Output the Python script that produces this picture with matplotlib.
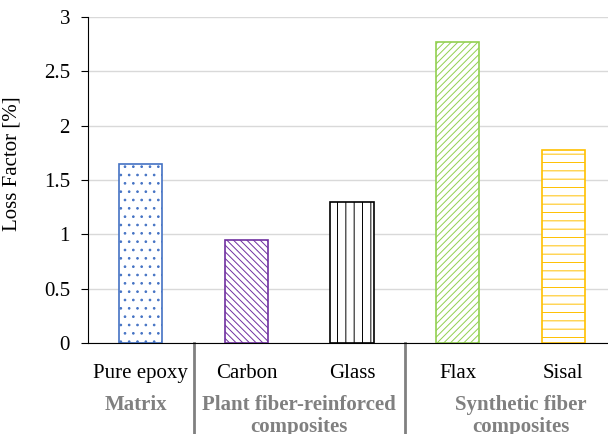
import matplotlib.pyplot as plt
from matplotlib.transforms import blended_transform_factory

categories = ['Pure epoxy', 'Carbon', 'Glass', 'Flax', 'Sisal']
loss_factor = [1.65, 0.95, 1.30, 2.77, 1.78]
groups = ['Matrix', 'Plant fiber-reinforced\ncomposites', 'Synthetic fiber\ncomposites']
group_pos = [-0.05, 1.5, 3.6]
separators = [0.5, 2.5]

colors = ['#4472C4', '#7030A0', '#000000', '#92D050', '#FFC000']
hatches = ['..', '\\\\\\\\\\', '||', '/////', '--']

plt.rcParams['font.family'] = ['Liberation Serif', 'DejaVu Serif']
plt.rcParams['font.size'] = 15
plt.rcParams['hatch.linewidth'] = 0.7

fig = plt.figure(figsize=(6.08, 4.34), dpi=100)
ax = fig.add_axes([88 / 608, 1 - 343 / 434, 528 / 608, 326 / 434])

for i, (v, c, h) in enumerate(zip(loss_factor, colors, hatches)):
    ax.bar(i, v, width=0.41, facecolor='white', edgecolor=c, hatch=h, linewidth=1.2, zorder=2)

ax.set_xlim(-0.5, 4.5)
ax.set_ylim(0, 3)
ax.set_yticks([0, 0.5, 1, 1.5, 2, 2.5, 3])
ax.set_yticklabels(['0', '0.5', '1', '1.5', '2', '2.5', '3'])
ax.set_xticks(range(len(categories)))
ax.set_xticklabels(categories)
ax.tick_params(axis='x', length=0, pad=15)
ax.tick_params(axis='y', length=5, direction='out', pad=8)
ax.set_ylabel('Loss Factor [%]')
ax.yaxis.set_label_coords(-0.125, 0.55)

ax.grid(axis='y', color='#D9D9D9', linewidth=1, zorder=0)
ax.set_axisbelow(True)
for s in ['top', 'right']:
    ax.spines[s].set_visible(False)

trans = blended_transform_factory(ax.transData, ax.transAxes)
for x in separators:
    ax.plot([x, x], [0, -0.3], color='#808080', linewidth=2, transform=trans, clip_on=False)
for x, g in zip(group_pos, groups):
    ax.text(x, -0.16, g, transform=trans, ha='center', va='top', color='#808080',
            fontweight='bold', fontsize=15, linespacing=1.15)

plt.savefig('out.png', dpi=100)
